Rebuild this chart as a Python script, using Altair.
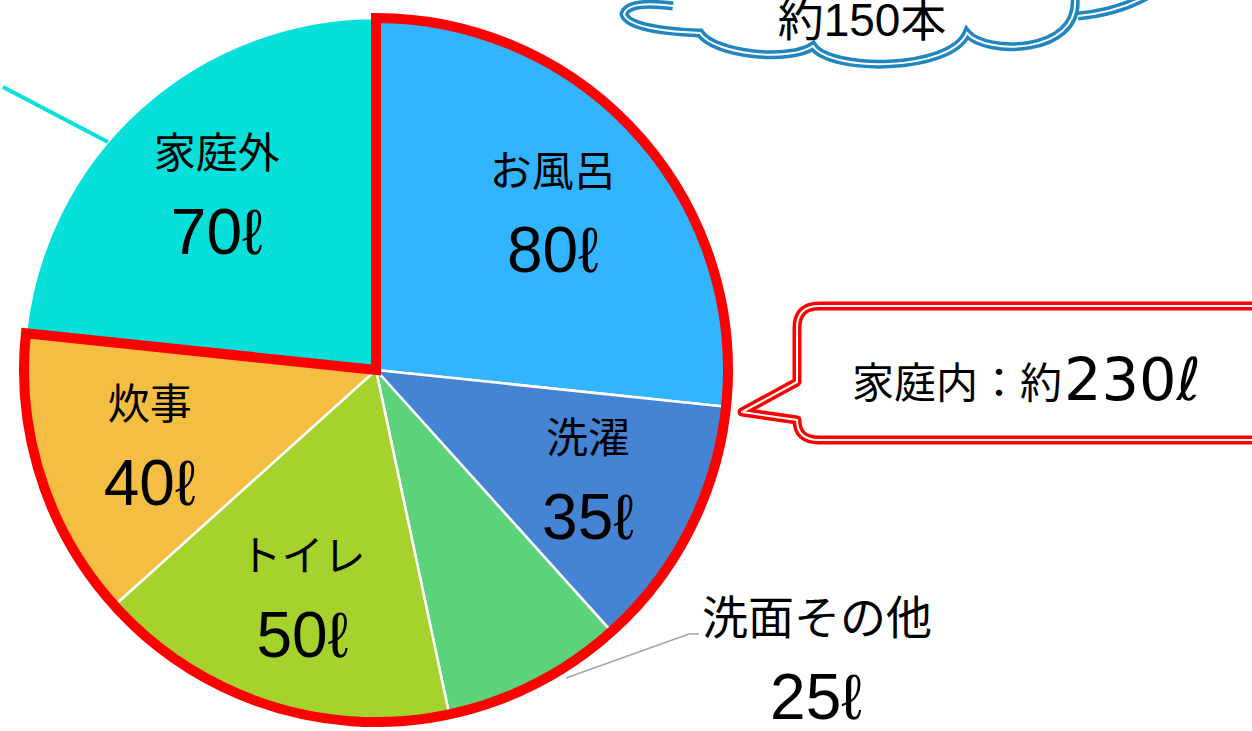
import altair as alt
import pandas as pd

# ---- data ----
categories = ["お風呂", "洗濯", "洗面その他", "トイレ", "炊事", "家庭外"]
values = [80, 35, 25, 50, 40, 70]
order_idx = [0, 1, 2, 3, 4, 5]
palette = ["#33B4FE", "#4583D3", "#5CD27A", "#A5D22D", "#F4BE42", "#07E0DA"]
unit = "ℓ"
outside_label = "洗面その他"
home_total_text = "230ℓ"
home_prefix_text = "家庭内：約"
cloud_text = "約150本"

df = pd.DataFrame({"cat": categories, "value": values, "idx": order_idx})

W, H = 1252, 731
CX, CY, R = 376, 370, 352
LABEL_R = 238

JP = "Noto Sans CJK JP"
NARROW = "Liberation Sans Narrow, Arial Narrow, Liberation Sans, Noto Sans CJK JP, sans-serif"

center = dict(x=alt.value(CX), y=alt.value(CY))
theta = alt.Theta("value:Q", stack=True)
order = alt.Order("idx:Q")

slices = alt.Chart(df).mark_arc(outerRadius=R, stroke="white", strokeWidth=2.5).encode(
    theta=theta, order=order,
    color=alt.Color("cat:N", scale=alt.Scale(domain=categories, range=palette), legend=None),
    **center,
)

outline = alt.Chart(df).transform_calculate(
    grp="datum.cat === '家庭外' ? 'out' : 'in'",
    gorder="datum.cat === '家庭外' ? 1 : 0",
).transform_aggregate(
    total="sum(value)", groupby=["grp", "gorder"]
).mark_arc(outerRadius=R, fill="white", fillOpacity=0, strokeWidth=10).encode(
    theta=alt.Theta("total:Q", stack=True),
    order=alt.Order("gorder:Q"),
    stroke=alt.condition(alt.datum.grp == "in", alt.value("#FF0000"), alt.value("transparent")),
    **center,
)

lab_base = alt.Chart(df).transform_calculate(
    name=f"datum.cat === '{outside_label}' ? '' : datum.cat",
    vlab=f"datum.cat === '{outside_label}' ? '' : datum.value + '{unit}'",
)
names = lab_base.mark_text(radius=LABEL_R, dy=-38, font=JP, fontSize=42, color="black").encode(
    theta=theta, order=order, text="name:N", **center
)
vals = lab_base.mark_text(radius=LABEL_R, dy=42, font=NARROW, fontSize=64, color="black").encode(
    theta=theta, order=order, text="vlab:N", **center
)

# outside label for 洗面その他
out_base = alt.Chart(df).transform_filter(alt.datum.cat == outside_label).transform_calculate(
    vlab=f"datum.value + '{unit}'"
)
out_name = out_base.mark_text(font=JP, fontSize=46, color="black").encode(
    text="cat:N", x=alt.value(817), y=alt.value(620)
)
out_val = out_base.mark_text(font=NARROW, fontSize=64, color="black").encode(
    text="vlab:N", x=alt.value(816), y=alt.value(700)
)

one = pd.DataFrame({"k": [0]})
leader1 = alt.Chart(one).mark_rule(color="#A6A6A6", strokeWidth=1.5).encode(
    x=alt.value(566), y=alt.value(678), x2=alt.value(689), y2=alt.value(634)
)
leader2 = alt.Chart(one).mark_rule(color="#A6A6A6", strokeWidth=1.5).encode(
    x=alt.value(689), y=alt.value(634), x2=alt.value(699), y2=alt.value(634)
)
cyan_line = alt.Chart(one).mark_rule(color="#07E0DA", strokeWidth=4).encode(
    x=alt.value(3), y=alt.value(87), x2=alt.value(108), y2=alt.value(142)
)

callout_path = ("M 819 306 L 1290 306 L 1290 440 L 819 440 Q 797 440 797 420 "
                "L 742 412 L 797 382 L 797 328 Q 797 306 819 306 Z")
callout = alt.Chart(one).mark_point(
    shape=callout_path, size=4, filled=True, fill="white", stroke="#FF0000",
    strokeWidth=9, opacity=1, strokeJoin="round"
).encode(x=alt.value(0), y=alt.value(0))
callout_inner = alt.Chart(one).mark_point(
    shape=callout_path, size=4, filled=False, stroke="white",
    strokeWidth=2, opacity=1, strokeJoin="round"
).encode(x=alt.value(0), y=alt.value(0))

cloud_path = ("M 673 6 Q 628 0 624 14 Q 628 30 700 33 C 715 55 790 62 813 46 "
              "C 830 72 950 72 967 33 C 985 55 1080 55 1075 -2 "
              "M 1078 16 Q 1120 12 1150 -6")
cloud = alt.Chart(one).mark_point(
    shape=cloud_path, size=4, filled=False, stroke="#2186C0", strokeWidth=9, opacity=1
).encode(x=alt.value(0), y=alt.value(0))
cloud_inner = alt.Chart(one).mark_point(
    shape=cloud_path, size=4, filled=False, stroke="white", strokeWidth=2, opacity=1
).encode(x=alt.value(0), y=alt.value(0))

txt_df = pd.DataFrame({"t": [cloud_text]})
cloud_label = alt.Chart(txt_df).mark_text(
    font=NARROW, fontSize=46, baseline="alphabetic", color="black"
).encode(text="t:N", x=alt.value(862), y=alt.value(36))

home_df = pd.DataFrame({"a": [home_prefix_text], "b": [home_total_text]})
home_a = alt.Chart(home_df).mark_text(
    font=JP, fontSize=42, align="right", baseline="alphabetic", color="black"
).encode(text="a:N", x=alt.value(1062), y=alt.value(398))
home_b = alt.Chart(home_df).mark_text(
    font="DejaVu Sans, sans-serif", fontSize=59, align="left", baseline="alphabetic", color="black"
).encode(text="b:N", x=alt.value(1064), y=alt.value(400))

chart = alt.layer(
    slices, outline, leader1, leader2, cyan_line, names, vals, out_name, out_val,
    callout, callout_inner, cloud, cloud_inner, cloud_label, home_a, home_b,
).properties(
    width=W, height=H, padding=0, autosize=alt.AutoSizeParams(type="none")
).configure_view(strokeWidth=0)

chart.save("out.html", embed_options={"renderer": "svg", "actions": False})
